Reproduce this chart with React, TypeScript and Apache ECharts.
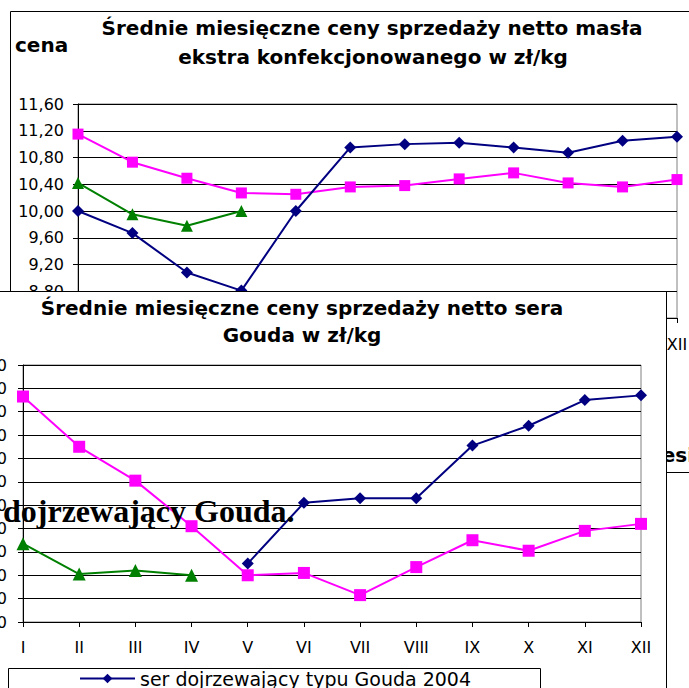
import React, { useEffect, useRef } from 'react';
import * as echarts from 'echarts';

const months = ['I', 'II', 'III', 'IV', 'V', 'VI', 'VII', 'VIII', 'IX', 'X', 'XI', 'XII'];

// Butter chart (top)
const butterPink = [11.15, 10.73, 10.49, 10.27, 10.25, 10.36, 10.38, 10.48, 10.57, 10.42, 10.36, 10.47];
const butterBlue = [10.0, 9.67, 9.08, 8.81, 10.0, 10.95, 11.0, 11.02, 10.95, 10.87, 11.05, 11.11];
const butterGreen = [10.42, 9.95, 9.78, 10.0, null, null, null, null, null, null, null, null];

// Gouda chart (bottom)
const goudaPink = [10.73, 10.3, 10.01, 9.62, 9.2, 9.22, 9.03, 9.27, 9.5, 9.41, 9.58, 9.64];
const goudaBlue = [null, null, null, null, 9.3, 9.82, 9.86, 9.86, 10.31, 10.48, 10.7, 10.74];
const goudaGreen = [9.47, 9.21, 9.24, 9.2, null, null, null, null, null, null, null, null];

const FONT = '"DejaVu Sans", sans-serif';
const fmt = (v: number) => v.toFixed(2).replace('.', ',');

const BLUE = '#000080';
const PINK = '#FF00FF';
const GREEN = '#008000';

function lineSeries(name: string, data: (number | null)[], color: string, symbol: string, size: number) {
  return {
    type: 'line',
    name,
    data,
    symbol,
    symbolSize: size,
    showAllSymbol: true,
    connectNulls: false,
    lineStyle: { color, width: 2 },
    itemStyle: { color },
  };
}

export default function App() {
  const topRef = useRef<HTMLDivElement>(null);
  const botRef = useRef<HTMLDivElement>(null);

  useEffect(() => {
    const top = echarts.init(topRef.current!, null, { renderer: 'svg' });
    const bot = echarts.init(botRef.current!, null, { renderer: 'svg' });

    top.setOption({
      animation: false,
      grid: {
        left: 78, top: 104, right: 12, height: 214, show: true, borderColor: '#808080', borderWidth: 1,
        containLabel: false, outerBoundsMode: 'none',
      },
      xAxis: {
        type: 'category',
        data: months,
        boundaryGap: false,
        axisLine: { lineStyle: { color: '#000', width: 1 } },
        axisTick: { show: true, length: 5, lineStyle: { color: '#000' } },
        axisLabel: { fontFamily: FONT, fontSize: 16, color: '#000', margin: 18 },
        splitLine: { show: false },
      },
      yAxis: {
        type: 'value',
        min: 8.4,
        max: 11.6,
        interval: 0.4,
        axisLine: { show: true, lineStyle: { color: '#000', width: 1 } },
        axisTick: { show: true, length: 5, lineStyle: { color: '#000' } },
        axisLabel: { formatter: fmt, fontFamily: FONT, fontSize: 16, color: '#000', margin: 14 },
        splitLine: { show: true, lineStyle: { color: '#000', width: 1 } },
      },
      series: [
        lineSeries('masło ekstra 2003', butterPink, PINK, 'rect', 11),
        lineSeries('masło ekstra 2005', butterGreen, GREEN, 'triangle', 12),
        lineSeries('masło ekstra 2004', butterBlue, BLUE, 'diamond', 12),
      ],
      graphic: [
        {
          type: 'rect',
          shape: { x: 10.5, y: 11.5, width: 700, height: 461 },
          style: { fill: 'none', stroke: '#000', lineWidth: 1 },
          silent: true,
        },
        {
          type: 'text',
          x: 15,
          y: 45,
          style: { text: 'cena', font: 'bold 20px "DejaVu Sans"', fill: '#000', align: 'left', verticalAlign: 'middle' },
        },
        {
          type: 'text',
          x: 372,
          y: 28,
          style: { text: 'Średnie miesięczne ceny sprzedaży netto masła', font: 'bold 20px "DejaVu Sans"', fill: '#000', align: 'center', verticalAlign: 'middle' },
        },
        {
          type: 'text',
          x: 373,
          y: 57,
          style: { text: 'ekstra konfekcjonowanego w zł/kg', font: 'bold 20px "DejaVu Sans"', fill: '#000', align: 'center', verticalAlign: 'middle' },
        },
        {
          type: 'text',
          x: 634,
          y: 455,
          style: { text: 'miesiące', font: 'bold 20px "DejaVu Sans"', fill: '#000', align: 'left', verticalAlign: 'middle' },
        },
      ],
    });

    bot.setOption({
      animation: false,
      grid: {
        left: 23, top: 74, right: 26, height: 257, show: true, borderColor: '#808080', borderWidth: 1,
        containLabel: false, outerBoundsMode: 'none',
      },
      legend: {
        data: ['ser dojrzewający typu Gouda 2004'],
        left: 79,
        top: 378,
        padding: 0,
        itemWidth: 55,
        itemHeight: 12,
        textStyle: { fontFamily: FONT, fontSize: 19, color: '#000' },
      },
      xAxis: {
        type: 'category',
        data: months,
        boundaryGap: false,
        axisLine: { lineStyle: { color: '#000', width: 1 } },
        axisTick: { show: true, length: 5, lineStyle: { color: '#000' } },
        axisLabel: { fontFamily: FONT, fontSize: 16, color: '#000', margin: 17 },
        splitLine: { show: false },
      },
      yAxis: {
        type: 'value',
        min: 8.8,
        max: 11.0,
        interval: 0.2,
        axisLine: { show: true, lineStyle: { color: '#000', width: 1 } },
        axisTick: { show: true, length: 5, lineStyle: { color: '#000' } },
        axisLabel: { formatter: fmt, fontFamily: FONT, fontSize: 16, color: '#000', margin: 16 },
        splitLine: { show: true, lineStyle: { color: '#000', width: 1 } },
      },
      series: [
        lineSeries('ser dojrzewający typu Gouda 2003', goudaPink, PINK, 'rect', 12),
        lineSeries('ser dojrzewający typu Gouda 2005', goudaGreen, GREEN, 'triangle', 13),
        lineSeries('ser dojrzewający typu Gouda 2004', goudaBlue, BLUE, 'diamond', 12),
      ],
      graphic: [
        {
          type: 'line',
          shape: { x1: 0, y1: 0.5, x2: 667, y2: 0.5 },
          style: { stroke: '#000', lineWidth: 1 },
          silent: true,
        },
        {
          type: 'line',
          shape: { x1: 666.5, y1: 0, x2: 666.5, y2: 397 },
          style: { stroke: '#000', lineWidth: 1 },
          silent: true,
        },
        {
          type: 'rect',
          shape: { x: 8.5, y: 377.5, width: 532, height: 40 },
          style: { fill: 'none', stroke: '#000', lineWidth: 1 },
          silent: true,
        },
        {
          type: 'text',
          x: 302,
          y: 17,
          style: { text: 'Średnie miesięczne ceny sprzedaży netto sera', font: 'bold 20px "DejaVu Sans"', fill: '#000', align: 'center', verticalAlign: 'middle' },
        },
        {
          type: 'text',
          x: 302,
          y: 44,
          style: { text: 'Gouda w zł/kg', font: 'bold 20px "DejaVu Sans"', fill: '#000', align: 'center', verticalAlign: 'middle' },
        },
        {
          type: 'text',
          x: 3,
          y: 220,
          z: 100,
          style: { text: 'dojrzewający Gouda.', font: 'bold 32px "Liberation Serif"', fill: '#000', align: 'left', verticalAlign: 'middle' },
        },
      ],
    });

    return () => {
      top.dispose();
      bot.dispose();
    };
  }, []);

  return (
    <div style={{ position: 'fixed', left: 0, top: 0, width: 689, height: 688, overflow: 'hidden', background: '#fff' }}>
      <div ref={topRef} style={{ position: 'absolute', left: 0, top: 0, width: 689, height: 688 }} />
      <div ref={botRef} style={{ position: 'absolute', left: 0, top: 291, width: 667, height: 397, background: '#fff' }} />
    </div>
  );
}
